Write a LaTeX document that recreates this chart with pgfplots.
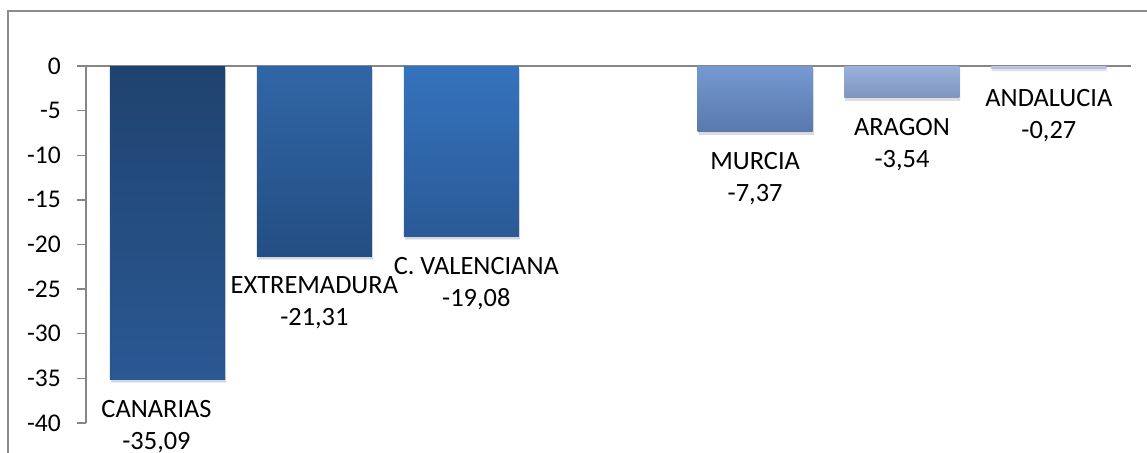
\documentclass[border=0pt]{standalone}
\usepackage{pgfplots}
\pgfplotsset{compat=1.18}
\usepackage{fontspec}
\setmainfont{Carlito}
\usetikzlibrary{shadows}
\definecolor{axgray}{HTML}{868686}
\definecolor{framegray}{HTML}{8C8C8C}
\definecolor{cAt}{HTML}{1F436F}\definecolor{cAb}{HTML}{2A5893}
\definecolor{cBt}{HTML}{3166A6}\definecolor{cBb}{HTML}{234E83}
\definecolor{cCt}{HTML}{3573BD}\definecolor{cCb}{HTML}{2A5A97}
\definecolor{cDt}{HTML}{7599D1}\definecolor{cDb}{HTML}{5979AC}
\definecolor{cEt}{HTML}{9AB1DC}\definecolor{cEb}{HTML}{7F95BF}
\definecolor{cFt}{HTML}{BCCAE7}\definecolor{cFb}{HTML}{A9BADC}
\begin{document}
\begin{tikzpicture}[x=1pt,y=1pt]
\useasboundingbox (0,0) rectangle (1147,-452);
\clip (0,0) rectangle (1147,-452);
\draw[framegray, line width=1.3pt] (8,-11) rectangle (1170,-480);
\begin{axis}[
  at={(86pt,-423pt)}, anchor=south west,
  scale only axis, width=1045pt, height=357pt,
  xmin=-0.5548, xmax=6.559, ymin=-40, ymax=0,
  axis x line*=top, axis y line*=left,
  axis line style={axgray, line width=2pt},
  xtick=\empty,
  ytick={0,-5,-10,-15,-20,-25,-30,-35,-40},
  tick align=outside, ytick pos=left,
  major tick length=9pt,
  tick style={axgray, line width=1.3pt},
  /pgf/number format/assume math mode=true,
  yticklabel style={font=\fontsize{25.5}{30}\selectfont, anchor=east, inner sep=0pt, xshift=-16pt},
  bar width=115pt,
  every axis plot/.append style={ybar, bar shift=0pt, draw=none,
    drop shadow={shadow xshift=1pt, shadow yshift=-3pt, opacity=0.1, fill=black}},
  nodes near coords align={below},
  every node near coord/.append style={anchor=north, yshift=-20.5pt, inner sep=0pt, align=center,
    font=\fontsize{26.4}{32}\selectfont, text=black},
  clip=false,
]
\addplot[top color=cAt, bottom color=cAb,
  nodes near coords={CANARIAS\\-35,09},
  every node near coord/.append style={xshift=-11pt}] coordinates {(0,-35.09)};
\addplot[top color=cBt, bottom color=cBb,
  nodes near coords={EXTREMADURA\\-21,31}] coordinates {(1,-21.31)};
\addplot[top color=cCt, bottom color=cCb,
  nodes near coords={C. VALENCIANA\\-19,08},
  every node near coord/.append style={xshift=15pt}] coordinates {(2,-19.08)};
\addplot[top color=cDt, bottom color=cDb,
  nodes near coords={MURCIA\\-7,37}] coordinates {(4,-7.37)};
\addplot[top color=cEt, bottom color=cEb,
  nodes near coords={ARAGON\\-3,54}] coordinates {(5,-3.54)};
\addplot[top color=cFt, bottom color=cFb,
  nodes near coords={ANDALUCIA\\-0,27}] coordinates {(6,-0.27)};
\end{axis}
\end{tikzpicture}
\end{document}
